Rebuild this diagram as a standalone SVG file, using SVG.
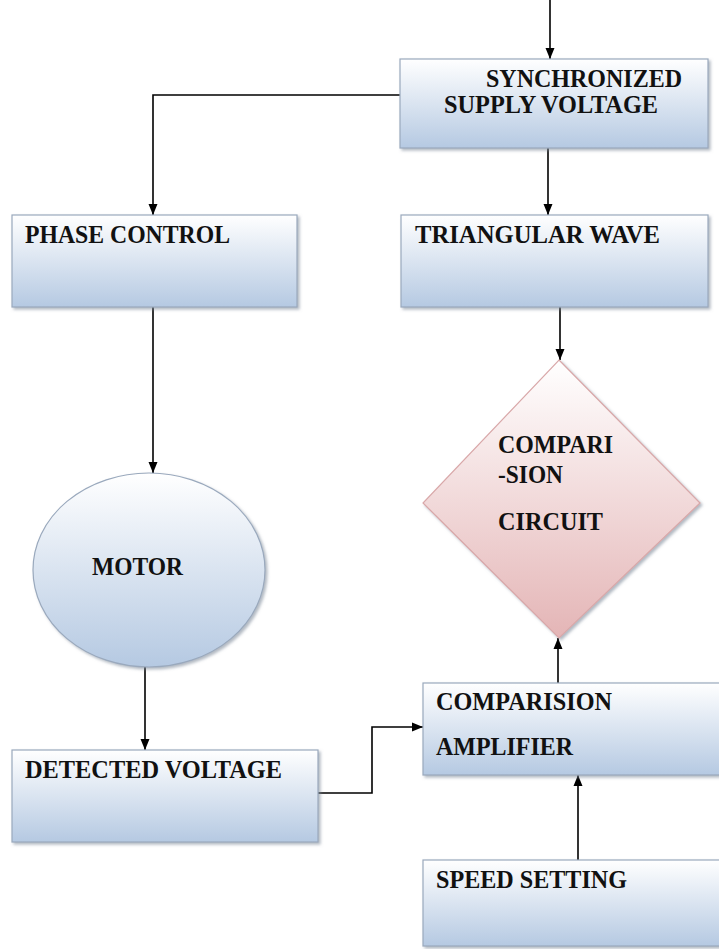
<svg xmlns="http://www.w3.org/2000/svg" width="719" height="949" viewBox="0 0 719 949">
<defs>
<linearGradient id="blue" x1="0" y1="0" x2="0" y2="1">
<stop offset="0" stop-color="#ffffff"/><stop offset="1" stop-color="#b5c9e2"/>
</linearGradient>
<linearGradient id="pink" x1="0" y1="0" x2="0" y2="1">
<stop offset="0" stop-color="#ffffff"/><stop offset="1" stop-color="#e4b5b6"/>
</linearGradient>
<filter id="sh" x="-10%" y="-10%" width="130%" height="130%">
<feDropShadow dx="2" dy="2" stdDeviation="1.5" flood-color="#7f8a99" flood-opacity="0.6"/>
</filter>
<marker id="ah" markerWidth="12" markerHeight="12" refX="11" refY="6" orient="auto" markerUnits="userSpaceOnUse">
<path d="M0,1.5 L11,6 L0,10.5 Z" fill="#000"/>
</marker>
</defs>
<style>
.box{fill:url(#blue);stroke:#9aa9bd;stroke-width:1.2;filter:url(#sh)}
.dia{fill:url(#pink);stroke:#d9a8a9;stroke-width:1.2;filter:url(#sh)}
.t{font-family:"Liberation Serif","Times New Roman",serif;font-weight:bold;font-size:25px;fill:#111}
.c{fill:none;stroke:#000;stroke-width:1.6}
</style>
<rect width="719" height="949" fill="#fff"/>
<g id="connectors">
<line class="c" x1="550" y1="0" x2="550" y2="59" marker-end="url(#ah)"/>
<polyline class="c" points="400,95 153,95 153,215" marker-end="url(#ah)"/>
<line class="c" x1="548" y1="148" x2="548" y2="215" marker-end="url(#ah)"/>
<line class="c" x1="560" y1="307" x2="560" y2="360" marker-end="url(#ah)"/>
<line class="c" x1="153" y1="307" x2="153" y2="473" marker-end="url(#ah)"/>
<line class="c" x1="145" y1="667" x2="145" y2="750" marker-end="url(#ah)"/>
<polyline class="c" points="318,793 372,793 372,727 423,727" marker-end="url(#ah)"/>
<line class="c" x1="558" y1="683" x2="558" y2="638" marker-end="url(#ah)"/>
<line class="c" x1="578" y1="860" x2="578" y2="775" marker-end="url(#ah)"/>
</g>
<g id="sync">
<rect class="box" x="400" y="59" width="308" height="89"/>
<text class="t" x="486" y="87" textLength="196" lengthAdjust="spacingAndGlyphs">SYNCHRONIZED</text>
<text class="t" x="444" y="113" textLength="214" lengthAdjust="spacingAndGlyphs">SUPPLY VOLTAGE</text>
</g>
<g id="phase">
<rect class="box" x="12" y="215" width="285" height="92"/>
<text class="t" x="25" y="243" textLength="205" lengthAdjust="spacingAndGlyphs">PHASE CONTROL</text>
</g>
<g id="triangular">
<rect class="box" x="401" y="215" width="307" height="92"/>
<text class="t" x="415" y="243" textLength="245" lengthAdjust="spacingAndGlyphs">TRIANGULAR WAVE</text>
</g>
<g id="comparision-circuit">
<polygon class="dia" points="559,360 700,503 559,638 423,503"/>
<text class="t" x="498" y="453" textLength="115" lengthAdjust="spacingAndGlyphs">COMPARI</text>
<text class="t" x="498" y="483" textLength="65" lengthAdjust="spacingAndGlyphs">-SION</text>
<text class="t" x="498" y="530" textLength="105" lengthAdjust="spacingAndGlyphs">CIRCUIT</text>
</g>
<g id="motor">
<ellipse class="box" cx="149" cy="570" rx="116" ry="97"/>
<text class="t" x="92" y="575" textLength="91" lengthAdjust="spacingAndGlyphs">MOTOR</text>
</g>
<g id="detected">
<rect class="box" x="12" y="750" width="306" height="92"/>
<text class="t" x="25" y="778" textLength="257" lengthAdjust="spacingAndGlyphs">DETECTED VOLTAGE</text>
</g>
<g id="amplifier">
<rect class="box" x="423" y="683" width="300" height="92"/>
<text class="t" x="436" y="710" textLength="176" lengthAdjust="spacingAndGlyphs">COMPARISION</text>
<text class="t" x="436" y="755" textLength="137" lengthAdjust="spacingAndGlyphs">AMPLIFIER</text>
</g>
<g id="speed">
<rect class="box" x="423" y="860" width="300" height="86"/>
<text class="t" x="436" y="888" textLength="191" lengthAdjust="spacingAndGlyphs">SPEED SETTING</text>
</g>
</svg>
